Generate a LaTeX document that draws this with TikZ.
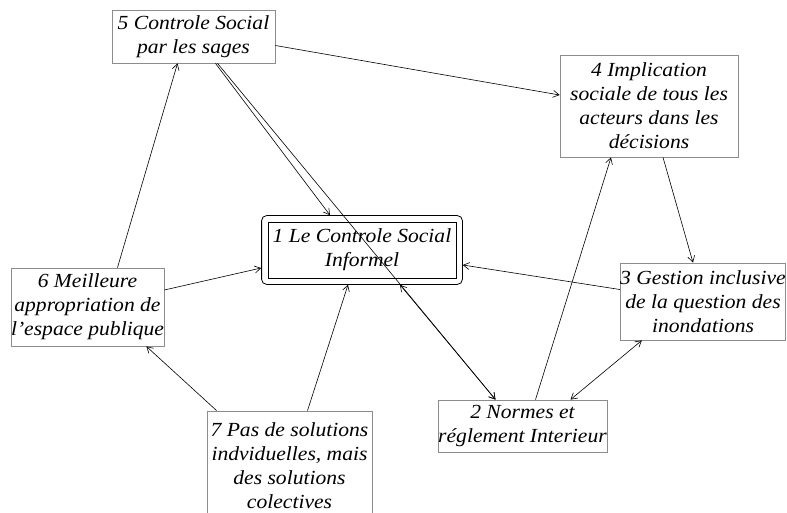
\documentclass[tikz,border=0pt]{standalone}
\usepackage{fontspec}
\setmainfont{Liberation Serif}[FakeStretch=1.08]
\usetikzlibrary{arrows.meta,fit}

\begin{document}
\begin{tikzpicture}[x=1pt, y=-1pt, >={Straight Barb[length=6pt,width=7pt]},
    box/.style={draw=black!45, line width=0.8pt, inner sep=0pt, align=center,
        font=\fontsize{20}{24}\selectfont\itshape},
    link/.style={->, line width=0.6pt}]
    \useasboundingbox (0,0) rectangle (787,513);
    \clip (0,0) rectangle (787,513);
    \fill[white] (0,0) rectangle (787,513);
    % central box, framed twice
    \node[box, draw=black, minimum width=188pt, minimum height=56pt] (one) at (362,250) {1 Le Controle Social\\Informel};
    \node[draw, rounded corners=5pt, line width=0.8pt, inner sep=6pt, fit=(one)] (onex) {};
    % the other boxes
    \node[box, minimum width=169pt, minimum height=52pt] (two) at (522.5,426) {2 Normes et\\réglement Interieur};
    \node[box, minimum width=160pt, minimum height=77pt] (three) at (703,301.5) {3 Gestion inclusive\\de la question des\\inondations};
    \node[box, minimum width=178pt, minimum height=102pt] (four) at (649,106) {4 Implication\\sociale de tous les\\acteurs dans les\\décisions};
    \node[box, minimum width=163pt, minimum height=53pt] (five) at (193.5,36.5) {5 Controle Social\\par les sages};
    \node[box, minimum width=151pt, minimum height=78pt] (six) at (87.5,307) {6 Meilleure\\appropriation de\\l'espace publique};
    \node[box, minimum width=165pt, minimum height=110pt] (seven) at (289.5,466) {7 Pas de solutions\\indviduelles, mais\\des solutions\\colectives};
    % links
    \draw[link] ([xshift=22pt]five.south) -- ([xshift=-32pt]onex.north);
    \draw[link] ([xshift=24pt]five.south) -- ([xshift=-27pt]two.north);
    \draw[link, <->] ([xshift=38pt]onex.south) -- ([xshift=-27pt]two.north);
    \draw[link] ([yshift=-9pt]five.east) -- ([yshift=11pt]four.west);
    \draw[link] ([xshift=30pt]six.north) -- ([xshift=-16pt]five.south);
    \draw[link] ([yshift=17pt]six.east) -- ([yshift=-18pt]onex.west);
    \draw[link] ([xshift=10pt]seven.north west) -- ([xshift=-18pt]six.south east);
    \draw[link] ([xshift=18pt]seven.north) -- ([xshift=-14pt]onex.south);
    \draw[link] ([yshift=12pt]three.west) -- ([yshift=-15pt]onex.east);
    \draw[link] ([xshift=14pt]four.south) -- ([xshift=-10pt]three.north);
    \draw[link] ([xshift=13pt]two.north) -- ([xshift=-38pt]four.south);
    \draw[link, <->] ([xshift=48pt]two.north) -- ([xshift=22pt]three.south west);
\end{tikzpicture}
\end{document}
